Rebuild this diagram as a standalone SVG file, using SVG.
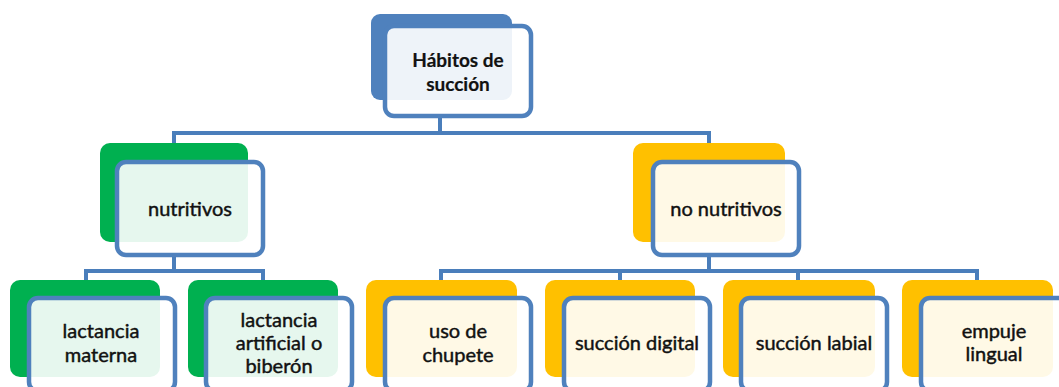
<svg xmlns="http://www.w3.org/2000/svg" width="1059" height="387" viewBox="0 0 1059 387">
<style>
.bg{fill:#ffffff}
.blue{fill:#4F81BD}
.green{fill:#00B050}
.yellow{fill:#FFC000}
.front{fill:#ffffff;fill-opacity:0.9;stroke:#4F81BD;stroke-width:4.5}
.conn{fill:none;stroke:#4A7EBB;stroke-width:4;stroke-linejoin:miter}
text{font-family:Lato,"Open Sans","Liberation Sans",sans-serif;font-size:20px;fill:#111111;stroke:#111111;stroke-width:0.45;text-anchor:middle}
.bold{font-weight:bold;font-size:19px;stroke-width:0.2}
</style>
<rect class="bg" x="0" y="0" width="1059" height="387"/>
<g id="connectors">
<path class="conn" d="M440 116 V133 M174 145 V133 H709 V145"/>
<path class="conn" d="M174 257 V271 M86 282 V271 H263 V282"/>
<path class="conn" d="M709 257 V271 M441 282 V271 H977 V282 M620 271 V282 M798 271 V282"/>
</g>
<g id="habitos">
<rect class="blue" x="371" y="14" width="141" height="86" rx="9"/>
<rect class="front" x="385" y="26" width="146" height="90" rx="9"/>
<text class="bold" x="458" y="67">Hábitos de</text>
<text class="bold" x="458" y="91">succión</text>
</g>
<g id="nutritivos">
<rect class="green" x="100" y="143" width="148" height="99" rx="10"/>
<rect class="front" x="117" y="162" width="146" height="93" rx="9"/>
<text x="190" y="216">nutritivos</text>
</g>
<g id="no-nutritivos">
<rect class="yellow" x="633" y="143" width="152" height="99" rx="10"/>
<rect class="front" x="653" y="162" width="146" height="93" rx="9"/>
<text x="726" y="216">no nutritivos</text>
</g>
<g id="lactancia-materna">
<rect class="green" x="10" y="280" width="150" height="97" rx="10"/>
<rect class="front" x="29" y="298" width="146" height="93" rx="9"/>
<text x="101" y="338">lactancia</text>
<text x="101" y="362">materna</text>
</g>
<g id="lactancia-artificial">
<rect class="green" x="188" y="280" width="150" height="97" rx="10"/>
<rect class="front" x="206" y="298" width="146" height="93" rx="9"/>
<text x="279" y="327">lactancia</text>
<text x="279" y="350">artificial o</text>
<text x="279" y="373">biberón</text>
</g>
<g id="uso-chupete">
<rect class="yellow" x="366" y="280" width="151" height="97" rx="10"/>
<rect class="front" x="385" y="298" width="146" height="93" rx="9"/>
<text x="458" y="338">uso de</text>
<text x="458" y="362">chupete</text>
</g>
<g id="succion-digital">
<rect class="yellow" x="545" y="280" width="150" height="97" rx="10"/>
<rect class="front" x="564" y="298" width="146" height="93" rx="9"/>
<text x="637" y="350">succión digital</text>
</g>
<g id="succion-labial">
<rect class="yellow" x="723" y="280" width="152" height="97" rx="10"/>
<rect class="front" x="741" y="298" width="146" height="93" rx="9"/>
<text x="814" y="350">succión labial</text>
</g>
<g id="empuje-lingual">
<rect class="yellow" x="902" y="280" width="151" height="97" rx="10"/>
<rect class="front" x="921" y="298" width="146" height="93" rx="9"/>
<text x="994" y="338">empuje</text>
<text x="994" y="361">lingual</text>
</g>
</svg>
